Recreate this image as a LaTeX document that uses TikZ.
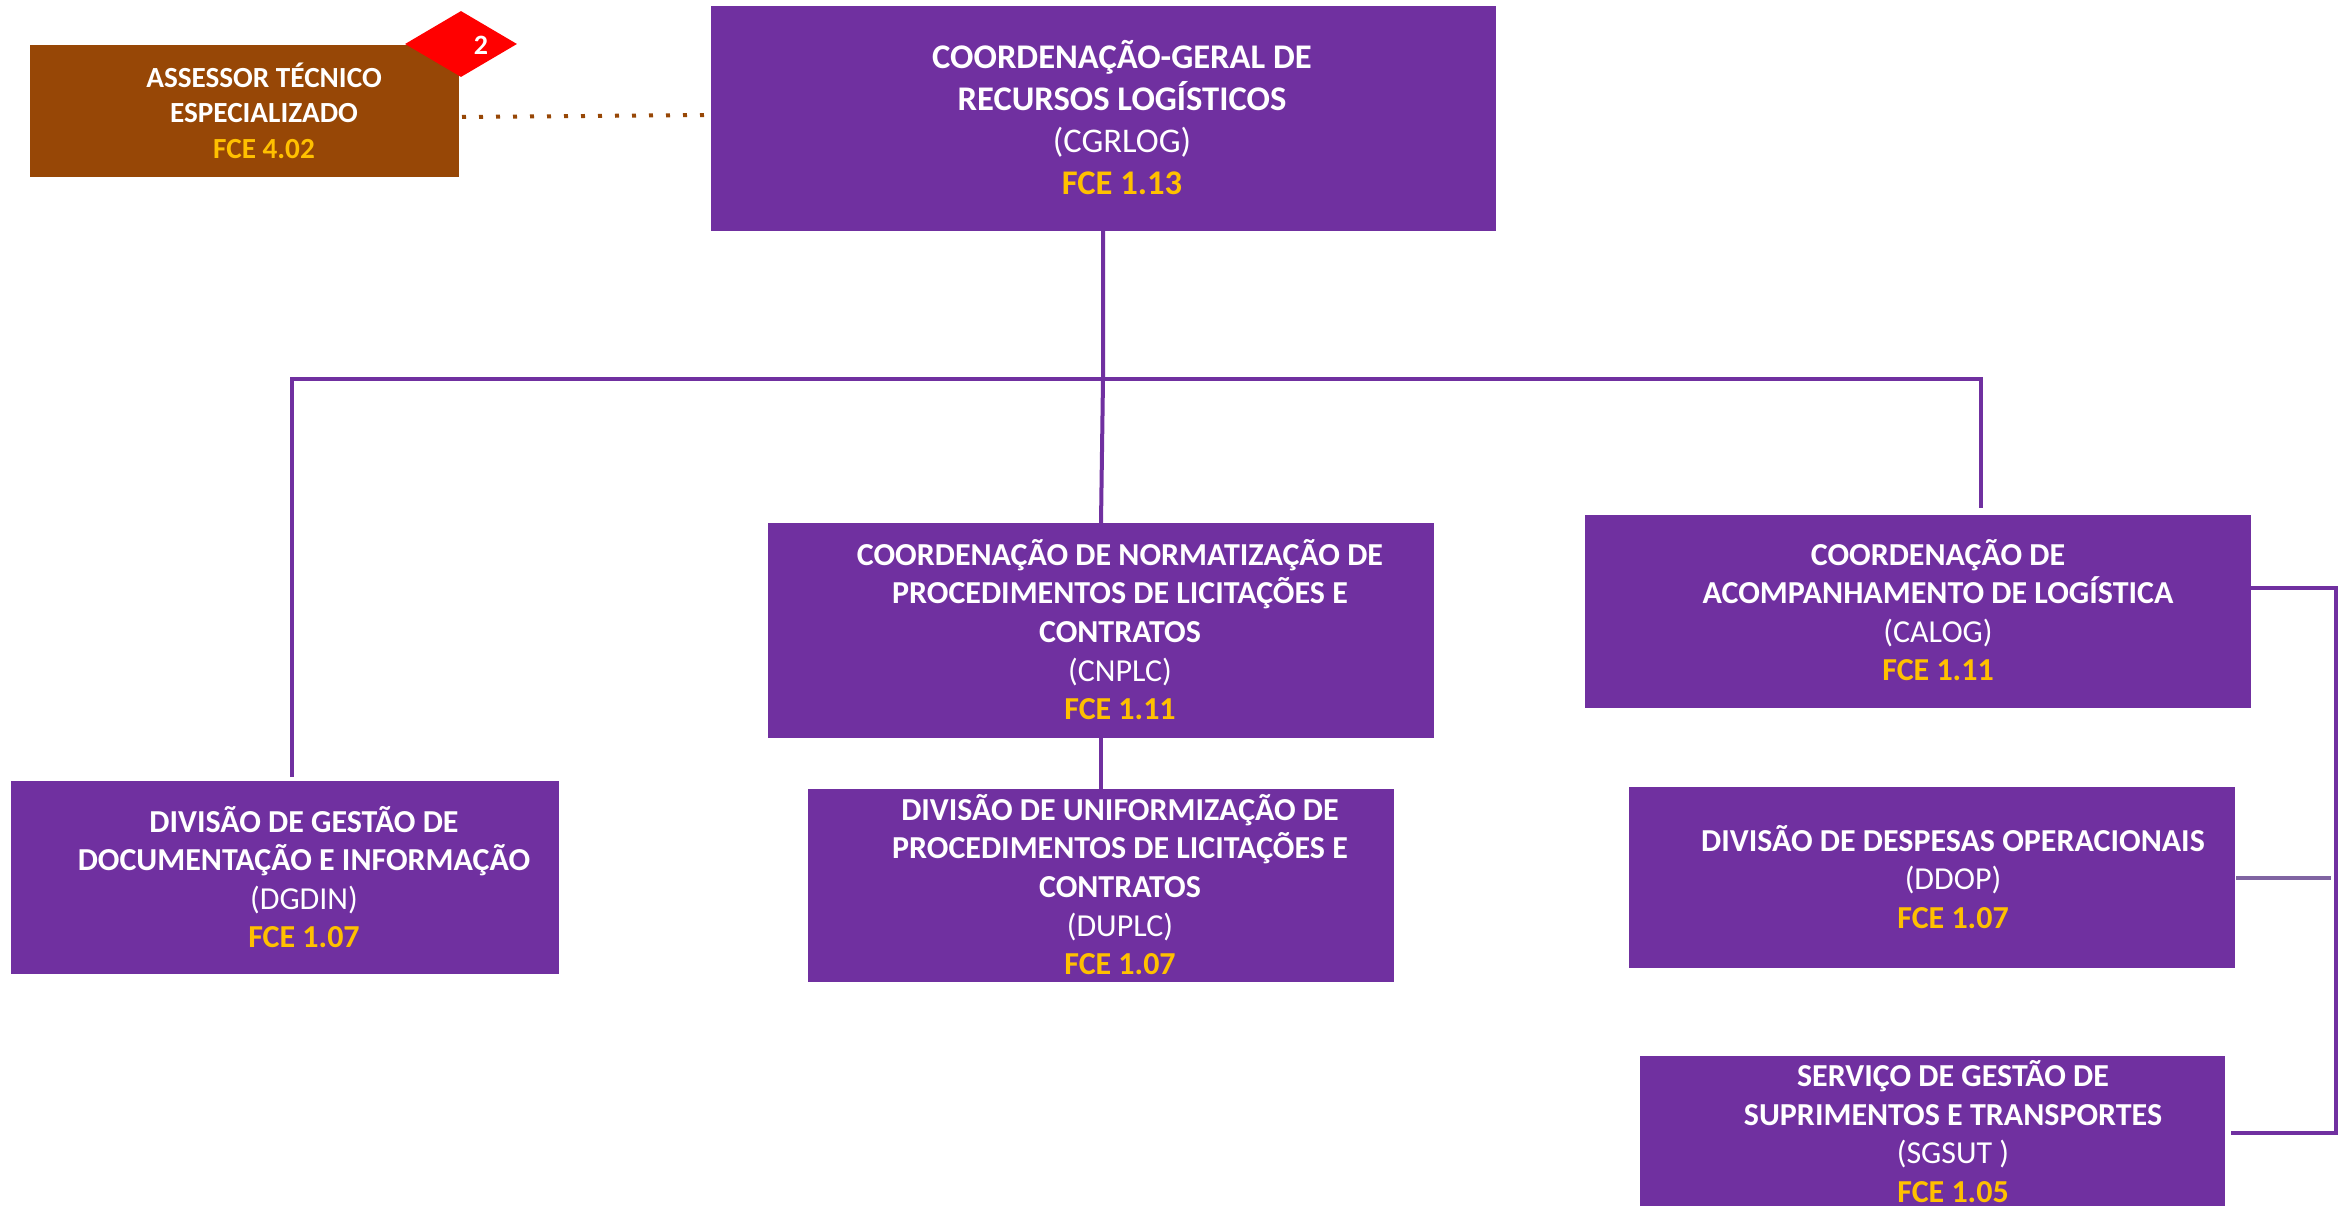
\documentclass[tikz,border=0pt]{standalone}
\usepackage{fontspec}
\setmainfont{Carlito}
\usetikzlibrary{shapes.geometric}
\definecolor{roxo}{HTML}{7030A0}
\definecolor{marrom}{HTML}{974706}
\definecolor{ouro}{HTML}{FFC000}
\definecolor{roxoclaro}{HTML}{8064A2}
\newcommand{\tit}[1]{\textbf{#1}}
\newcommand{\fce}[1]{\textcolor{ouro}{\textbf{#1}}}
\tikzset{
  purplebox/.style={rectangle,fill=roxo,draw=none,inner sep=0pt},
  brownbox/.style={rectangle,fill=marrom,draw=none,inner sep=0pt},
  badge/.style={diamond,fill=red,draw=none,inner sep=0pt,aspect=1.697,minimum width=112pt,minimum height=66pt},
  boxtext/.style={text=white,align=center,inner sep=0pt,font=\fontsize{32}{38.6}\selectfont},
  bigtext/.style={text=white,align=center,inner sep=0pt,font=\fontsize{34.6}{42}\selectfont},
  smalltext/.style={text=white,align=center,inner sep=0pt,font=\fontsize{29.2}{35.5}\selectfont},
  link/.style={draw=roxo,line width=4pt},
  linklight/.style={draw=roxoclaro,line width=3.5pt},
  dotlink/.style={draw=marrom,line width=4pt,dash pattern=on 4pt off 13pt},
}
\begin{document}
\begin{tikzpicture}[x=1pt,y=-1pt]
\useasboundingbox (0,0) rectangle (2351,1206);
% boxes
\node[purplebox,minimum width=785pt,minimum height=225pt] (cgrlog) at (1103,118.5) {};
\node[brownbox,minimum width=429pt,minimum height=132pt] (assessor) at (244.5,111.5) {};
\node[badge] (badge) at (461,44) {};
\node[purplebox,minimum width=666pt,minimum height=215pt] (cnplc) at (1101,630.5) {};
\node[purplebox,minimum width=586pt,minimum height=193pt] (duplc) at (1101,885.5) {};
\node[purplebox,minimum width=548pt,minimum height=193pt] (dgdin) at (285,877.5) {};
\node[purplebox,minimum width=666pt,minimum height=193pt] (calog) at (1918,611.5) {};
\node[purplebox,minimum width=606pt,minimum height=181pt] (ddop) at (1932,877.5) {};
\node[purplebox,minimum width=585pt,minimum height=150pt] (sgsut) at (1932,1131) {};
% text
\node[text=white,inner sep=0pt,font=\fontsize{28}{32}\selectfont] (badgetxt) at (481,45) {\tit{2}};
\node[smalltext] (assessortxt) at (264,110.5) {\tit{ASSESSOR TÉCNICO}\\\tit{ESPECIALIZADO}\\\fce{FCE 4.02}};
\node[bigtext] (cgrlogtxt) at (1122,118) {\tit{COORDENAÇÃO-GERAL DE}\\\tit{RECURSOS LOGÍSTICOS}\\(CGRLOG)\\\fce{FCE 1.13}};
\node[boxtext] (cnplctxt) at (1120,629.5) {\tit{COORDENAÇÃO DE NORMATIZAÇÃO DE}\\\tit{PROCEDIMENTOS DE LICITAÇÕES E}\\\tit{CONTRATOS}\\(CNPLC)\\\fce{FCE 1.11}};
\node[boxtext] (duplctxt) at (1120,884.5) {\tit{DIVISÃO DE UNIFORMIZAÇÃO DE}\\\tit{PROCEDIMENTOS DE LICITAÇÕES E}\\\tit{CONTRATOS}\\(DUPLC)\\\fce{FCE 1.07}};
\node[boxtext] (dgdintxt) at (304,877) {\tit{DIVISÃO DE GESTÃO DE}\\\tit{DOCUMENTAÇÃO E INFORMAÇÃO}\\(DGDIN)\\\fce{FCE 1.07}};
\node[boxtext] (calogtxt) at (1938,610) {\tit{COORDENAÇÃO DE}\\\tit{ACOMPANHAMENTO DE LOGÍSTICA}\\(CALOG)\\\fce{FCE 1.11}};
\node[boxtext] (ddoptxt) at (1953,877) {\tit{DIVISÃO DE DESPESAS OPERACIONAIS}\\(DDOP)\\\fce{FCE 1.07}};
\node[boxtext] (sgsuttxt) at (1953,1131.5) {\tit{SERVIÇO DE GESTÃO DE}\\\tit{SUPRIMENTOS E TRANSPORTES}\\(SGSUT )\\\fce{FCE 1.05}};
% free ends of connectors
\coordinate (dotA) at (462,117);
\coordinate (dotB) at (708,115);
\coordinate (junction) at (1103,379);
\coordinate (leftend) at (292,777);
\coordinate (rightend) at (1981,508);
\coordinate (calogout) at (2251,588);
\coordinate (ddopout) at (2236,878);
\coordinate (ddopin) at (2331,878);
\coordinate (sgsutout) at (2231,1133);
% connectors
\draw[dotlink] (dotA) -- (dotB);
\draw[link] (cgrlog.south) -- (junction) -- (cnplc.north);
\draw[link] (cnplc.south) -- (duplc.north);
\draw[link] (leftend) -- (leftend |- junction) -- (rightend |- junction) -- (rightend);
\draw[link] (calogout) -- (2336,588) -- (2336,1133) -- (sgsutout);
\draw[linklight] (ddopout) -- (ddopin);
\end{tikzpicture}
\end{document}
